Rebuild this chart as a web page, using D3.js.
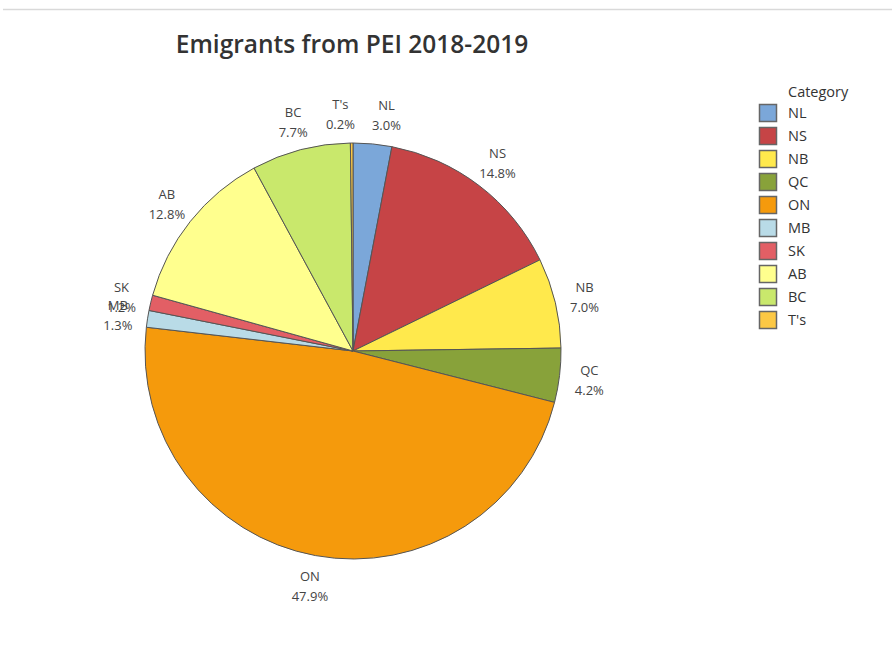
<!DOCTYPE html>
<html>
<head>
<meta charset="utf-8">
<script src="https://cdn.jsdelivr.net/npm/d3@7"></script>
<style>
  body { margin: 0; background: #fff; }
  svg text { font-family: "Open Sans", "Noto Sans", sans-serif; }
</style>
</head>
<body>
<svg id="chart" width="892" height="645"></svg>
<script>
var categories = ["NL", "NS", "NB", "QC", "ON", "MB", "SK", "AB", "BC", "T's"];
var shares = [3.0, 14.8, 7.0, 4.2, 47.9, 1.3, 1.2, 12.8, 7.7, 0.2];
var colors = ["#7ba7d9", "#c64446", "#ffe94c", "#88a23a", "#f59a0c", "#b9dbe7", "#e25f65", "#ffff8e", "#c9e86c", "#fcc844"];

var svg = d3.select("#chart");
var cx = 353, cy = 351, radius = 208, labelRadius = 238;

// thin grey rule across the top
svg.append("line")
    .attr("x1", 3).attr("x2", 892)
    .attr("y1", 9.5).attr("y2", 9.5)
    .attr("stroke", "#d9d9d9")
    .attr("stroke-width", 1.5);

svg.append("text")
    .attr("x", 352).attr("y", 53)
    .attr("text-anchor", "middle")
    .attr("font-size", 24.5)
    .attr("font-weight", 600)
    .attr("fill", "#333")
    .text("Emigrants from PEI 2018-2019");

var data = categories.map(function (c, i) {
    return { name: c, value: shares[i], color: colors[i] };
});

var pie = d3.pie().sort(null).value(function (d) { return d.value; });
var arc = d3.arc().innerRadius(0).outerRadius(radius);
var labelArc = d3.arc().innerRadius(labelRadius).outerRadius(labelRadius);

var g = svg.append("g").attr("transform", "translate(" + cx + "," + cy + ")");
var arcs = pie(data);

g.selectAll("path")
    .data(arcs).enter()
    .append("path")
    .attr("d", arc)
    .attr("fill", function (d) { return d.data.color; })
    .attr("stroke", "#555")
    .attr("stroke-width", 1);

// label anchor points; only the labels crowding at the top get pushed apart
var pts = arcs.map(function (d) {
    var p = labelArc.centroid(d);
    return { d: d, x: p[0], y: p[1] };
});
var minGap = 46;
for (var i = 0; i < pts.length; i++) {
    var a = pts[i], b = pts[(i + 1) % pts.length];
    if (a.y < -150 && b.y < -150 && Math.abs(a.x - b.x) < minGap) {
        var push = (minGap - Math.abs(a.x - b.x)) / 2;
        var dir = a.x < b.x ? 1 : -1;
        a.x -= dir * push;
        b.x += dir * push;
    }
}

var labels = g.selectAll("g.label")
    .data(pts).enter()
    .append("g")
    .attr("class", "label")
    .attr("transform", function (p) { return "translate(" + p.x + "," + p.y + ")"; });

labels.append("text")
    .attr("y", -4)
    .attr("text-anchor", "middle")
    .attr("font-size", 13)
    .attr("fill", "#444")
    .text(function (p) { return p.d.data.name; });

labels.append("text")
    .attr("y", 16)
    .attr("text-anchor", "middle")
    .attr("font-size", 13)
    .attr("fill", "#444")
    .text(function (p) { return p.d.data.value.toFixed(1) + "%"; });

// legend
var legend = svg.append("g").attr("transform", "translate(759,0)");
legend.append("text")
    .attr("x", 29).attr("y", 97)
    .attr("font-size", 14.5)
    .attr("fill", "#333")
    .text("Category");

var rows = legend.selectAll("g.row")
    .data(data).enter()
    .append("g")
    .attr("class", "row")
    .attr("transform", function (d, i) { return "translate(0," + (104 + i * 23) + ")"; });

rows.append("rect")
    .attr("x", 0.5).attr("y", 0.5)
    .attr("width", 17).attr("height", 17)
    .attr("fill", function (d) { return d.color; })
    .attr("stroke", "#666")
    .attr("stroke-width", 1.5);

rows.append("text")
    .attr("x", 29).attr("y", 14)
    .attr("font-size", 14.5)
    .attr("fill", "#333")
    .text(function (d) { return d.name; });
</script>
</body>
</html>
